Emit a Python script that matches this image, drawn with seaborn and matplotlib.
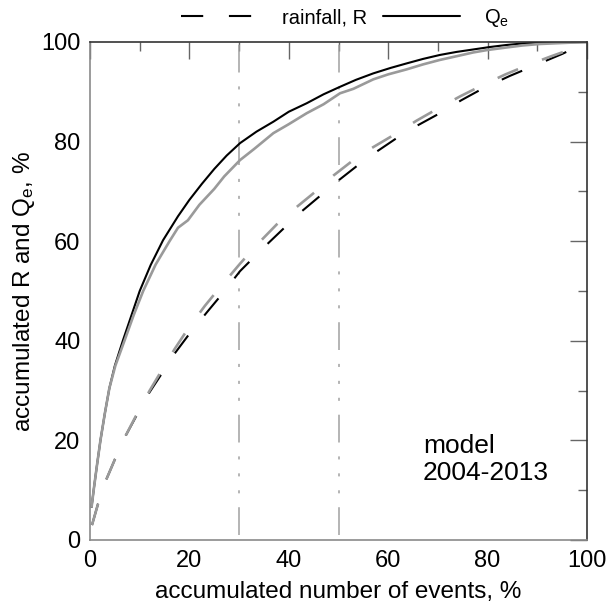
import matplotlib
matplotlib.use("Agg")
import matplotlib.pyplot as plt
import seaborn as sns
import pandas as pd
from matplotlib.lines import Line2D
from matplotlib.ticker import MultipleLocator

# ---- data ----
qe_black_x = [0.3, 0.8, 1.4, 2.1, 3.0, 3.9, 5.0, 6.6, 8.3, 10, 12.2, 14.7, 17.7, 20, 22.5, 25, 27.5, 30.2, 33.5, 36.9,
              40, 43.6, 47, 50.3, 53.5, 57, 60.5, 63.7, 67, 70.4, 73.7, 77.1, 80.5, 83.8, 87, 90.5, 100]
qe_black_y = [6.5, 10.5, 15, 20, 25.5, 30.5, 35, 40, 45, 50, 55.2, 60.2, 65, 68.3, 71.5, 74.5, 77.2, 79.7, 82, 84,
              86, 87.7, 89.5, 91, 92.4, 93.7, 94.8, 95.7, 96.6, 97.4, 98, 98.5, 99, 99.4, 99.7, 99.9, 100]

qe_gray_x = [0.3, 0.8, 1.4, 2.1, 3.0, 3.9, 5.1, 7.0, 8.8, 10.7, 13.2, 16, 17.7, 19.7, 22, 25, 27, 30.2, 33, 36.9, 40,
             43.6, 47, 50.3, 53, 57, 60, 63.7, 67, 70.4, 74, 77.1, 80, 83.8, 87, 90.5, 95, 100]
qe_gray_y = [6.5, 10.5, 15, 20, 25.5, 30.5, 35, 40.2, 45.2, 50, 55.3, 60, 62.7, 64.2, 67.3, 70.5, 73, 76.3, 78.5, 81.7,
             83.5, 85.7, 87.5, 89.7, 90.6, 92.5, 93.5, 94.5, 95.5, 96.4, 97.2, 97.9, 98.4, 98.9, 99.3, 99.6, 99.8, 100]

rain_black_x = [0.4, 1.6, 3.3, 5.1, 7.2, 9.7, 12, 14.7, 17, 20, 23.5, 26.5, 30.2, 34.5, 38.9, 42.6, 46.3, 50, 53.7,
                57.7, 61.7, 66, 70.4, 74.7, 79.1, 84.5, 90, 95, 100]
rain_black_y = [3, 7.2, 12.2, 16.4, 21, 25.6, 29.7, 33.8, 37.4, 41.4, 45.7, 49.3, 54, 58.3, 62.5, 66, 69.1, 72.2, 75.1,
                78, 80.7, 83.3, 85.7, 88.3, 90.7, 93.2, 95.5, 97.6, 100]

rain_gray_x = [0.4, 1.6, 3.3, 5.1, 7.2, 9.7, 12, 14.7, 17, 19.7, 23.1, 25.8, 30.2, 33.8, 37.6, 41.5, 45.3, 49, 53, 57,
               61.4, 65.7, 70.1, 74.5, 79.1, 83.6, 88.2, 92.7, 97.2, 100]
rain_gray_y = [3, 7.2, 12.2, 16.4, 21, 25.8, 30, 34.5, 38.3, 42.4, 47, 50.3, 55.5, 59.5, 63.4, 66.8, 69.9, 73.2, 76.3,
               78.9, 81.5, 84.2, 86.7, 89.1, 91.4, 93.5, 95.4, 97.1, 98.7, 100]

ref_x = [30, 50]
legend_labels = ["rainfall, R", r"Q$_\mathrm{e}$"]
annot_text = "model\n2004-2013"
xlabel = "accumulated number of events, %"
ylabel = r"accumulated R and Q$_\mathrm{e}$, %"

# ---- style ----
sns.set_theme(style="white")
plt.rcParams["font.family"] = ["Liberation Sans", "DejaVu Sans"]
plt.rcParams["mathtext.fontset"] = "custom"
plt.rcParams["mathtext.rm"] = "Liberation Sans"
plt.rcParams["mathtext.it"] = "Liberation Sans"
plt.rcParams["mathtext.default"] = "regular"
plt.rcParams["lines.scale_dashes"] = False
plt.rcParams["text.color"] = "black"
plt.rcParams["axes.labelcolor"] = "black"

GRAY = "#9a9a9a"
DASH = (0, (16.0, 18.5))

fig = plt.figure(figsize=(6.07, 6.05), dpi=100)
ax = fig.add_axes([90 / 607, 65 / 605, 497 / 607, 498 / 605])

for x in ref_x:
    ax.axvline(x, color="#a0a0a0", lw=1.1, linestyle=(63, (20, 10, 2.2, 10, 2.2, 10, 2.2, 10)), zorder=1)

def draw(xs, ys, color, lw, ls):
    df = pd.DataFrame({"x": xs, "y": ys})
    sns.lineplot(data=df, x="x", y="y", ax=ax, color=color, linewidth=lw, sort=False, estimator=None)
    ln = ax.lines[-1]
    ln.set_linestyle(ls)
    ln.set_solid_capstyle("butt")
    ln.set_dash_capstyle("butt")
    ln.set_solid_joinstyle("round")
    return ln

draw(qe_black_x, qe_black_y, "black", 1.5, "-")
draw(rain_black_x, rain_black_y, "black", 1.5, DASH)
draw(qe_gray_x, qe_gray_y, GRAY, 1.9, "-")
draw(rain_gray_x, rain_gray_y, GRAY, 1.9, DASH)

ax.set_xlim(0, 100)
ax.set_ylim(0, 100)
ax.xaxis.set_major_locator(MultipleLocator(20))
ax.yaxis.set_major_locator(MultipleLocator(20))
ax.xaxis.set_minor_locator(MultipleLocator(10))
ax.yaxis.set_minor_locator(MultipleLocator(10))
ax.tick_params(which="both", direction="in", top=True, right=True, color="#666666", width=1.0,
               labelsize=17, labelcolor="black")
ax.tick_params(which="major", length=12, pad=7)
ax.tick_params(which="minor", length=6.5)

for side in ["left", "bottom"]:
    ax.spines[side].set_color("#8a8a8a")
for side in ["top", "right"]:
    ax.spines[side].set_color("#333333")
for s in ax.spines.values():
    s.set_linewidth(1.2)

ax.set_xlabel(xlabel, fontsize=17.5, labelpad=7, color="black")
ax.set_ylabel(ylabel, fontsize=17.5, labelpad=3, color="black")

ax.text(67, 21.3, annot_text, fontsize=19, ha="left", va="top", linespacing=1.15, color="black")

handles = [Line2D([], [], color="black", lw=1.5, linestyle=DASH, dash_capstyle="butt"),
           Line2D([], [], color="black", lw=1.5, linestyle="-")]
leg = fig.legend(handles, legend_labels, loc="center", bbox_to_anchor=(345 / 607, 1 - 18 / 605),
                 bbox_transform=fig.transFigure, ncol=2, frameon=False, fontsize=14.5,
                 handlelength=3.8, handletextpad=1.2, columnspacing=0.8)
for t in leg.get_texts():
    t.set_color("black")

fig.savefig("out.png", dpi=100)
